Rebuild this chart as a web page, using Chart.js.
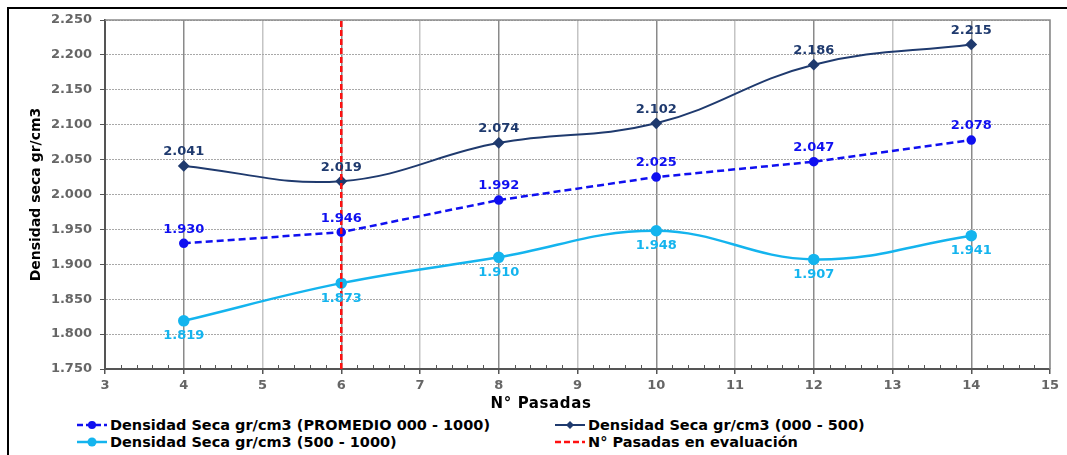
<!DOCTYPE html>
<html><head><meta charset="utf-8">
<script src="https://cdn.jsdelivr.net/npm/chart.js@4.4.1/dist/chart.umd.min.js"></script>
<style>
html,body{margin:0;padding:0;background:#fff;}
#wrap{position:relative;width:1067px;height:455px;overflow:hidden;background:#fff;font-family:"DejaVu Sans",Verdana,sans-serif;}
#frame{position:absolute;left:7px;top:7px;width:1200px;height:600px;border-left:2px solid #000;border-top:2px solid #000;}
#cv{position:absolute;left:0;top:0;width:1067px;height:415px;}
.leg{position:absolute;font-weight:bold;font-size:14.5px;color:#000;white-space:nowrap;display:flex;align-items:center;height:17px;}
.leg svg{margin-right:2px;}
</style></head>
<body><div id="wrap"><div id="frame"></div>
<div id="cv"><canvas id="c"></canvas></div>
<div class="leg" style="left:76px;top:416px"><svg width="32" height="12"><line x1="1" y1="6" x2="31" y2="6" stroke="#1010f0" stroke-width="2.5" stroke-dasharray="6,3"/><circle cx="16" cy="6" r="4" fill="#1010f0"/></svg>Densidad Seca gr/cm3 (PROMEDIO 000 - 1000)</div>
<div class="leg" style="left:554px;top:416px"><svg width="32" height="12"><line x1="1" y1="6" x2="31" y2="6" stroke="#1f3a6e" stroke-width="2"/><polygon points="16,2 20,6 16,10 12,6" fill="#1f3a6e"/></svg>Densidad Seca gr/cm3 (000 - 500)</div>
<div class="leg" style="left:76px;top:433px"><svg width="32" height="12"><line x1="1" y1="6" x2="31" y2="6" stroke="#14b4ee" stroke-width="2.5"/><circle cx="16" cy="6" r="4.5" fill="#14b4ee"/></svg>Densidad Seca gr/cm3 (500 - 1000)</div>
<div class="leg" style="left:554px;top:433px"><svg width="32" height="12"><line x1="1" y1="6" x2="31" y2="6" stroke="#ff1010" stroke-width="2.5" stroke-dasharray="6,3"/></svg>N° Pasadas en evaluación</div>
</div>
<script>
const pasadas = [4, 6, 8, 10, 12, 14];
const promedio = [1.930, 1.946, 1.992, 2.025, 2.047, 2.078];
const tramo000_500 = [2.041, 2.019, 2.074, 2.102, 2.186, 2.215];
const tramo500_1000 = [1.819, 1.873, 1.910, 1.948, 1.907, 1.941];
const pasadaEvaluacion = 6;
const yRange = [1.75, 2.25];
const xRange = [3, 15];
const xTitle = 'N° Pasadas';
const yTitle = 'Densidad seca gr/cm3';

const FONT = '"DejaVu Sans", Verdana, sans-serif';
const toXY = arr => pasadas.map((p, i) => ({x: p, y: arr[i]}));

const labelPlugin = {
  id: 'labels',
  afterDatasetsDraw(chart) {
    const ctx = chart.ctx;
    ctx.save();
    ctx.font = 'bold 13px ' + FONT;
    ctx.textAlign = 'center';
    ctx.textBaseline = 'middle';
    chart.data.datasets.forEach((ds, di) => {
      if (!ds.labelPos) return;
      const meta = chart.getDatasetMeta(di);
      meta.data.forEach((pt, i) => {
        const v = ds.data[i].y;
        const dy = ds.labelPos === 'above' ? -14 : 15;
        ctx.fillStyle = ds.labelColor;
        ctx.fillText(v.toFixed(3), pt.x, pt.y + dy);
      });
    });
    ctx.restore();
  }
};

const framePlugin = {
  id: 'frameBox',
  beforeDatasetsDraw(chart) {
    const {ctx, chartArea: a, scales: {x}} = chart;
    ctx.save();
    ctx.strokeStyle = '#8c8c8c';
    ctx.lineWidth = 1.5;
    ctx.beginPath();
    ctx.moveTo(a.left, a.top); ctx.lineTo(a.right, a.top); ctx.lineTo(a.right, a.bottom);
    ctx.stroke();
    ctx.strokeStyle = '#555';
    ctx.lineWidth = 1;
    ctx.beginPath();
    for (let v = xRange[0]; v < xRange[1]; v++) {
      for (let k = 1; k < 5; k++) {
        const px = Math.round(x.getPixelForValue(v + k * 0.2)) + 0.5;
        ctx.moveTo(px, a.bottom); ctx.lineTo(px, a.bottom - 4);
      }
    }
    ctx.stroke();
    ctx.restore();
  },
  afterDraw(chart) {
    const ctx = chart.ctx;
    ctx.save();
    ctx.font = 'bold 15px ' + FONT;
    ctx.fillStyle = '#000';
    ctx.textAlign = 'center';
    ctx.textBaseline = 'middle';
    ctx.letterSpacing = '0.6px';
    ctx.fillText(xTitle, 541, 404);
    ctx.restore();
  }
};

new Chart(document.getElementById('c'), {
  type: 'line',
  data: {
    datasets: [
      {
        label: 'N° Pasadas en evaluación',
        data: [{x: pasadaEvaluacion, y: yRange[0]}, {x: pasadaEvaluacion, y: yRange[1]}],
        borderColor: '#ff1010', borderWidth: 2.5, borderDash: [6, 3], pointRadius: 0, fill: false
      },
      {
        label: 'Densidad Seca gr/cm3 (500 - 1000)',
        data: toXY(tramo500_1000),
        borderColor: '#14b4ee', backgroundColor: '#14b4ee', borderWidth: 2.5,
        pointStyle: 'circle', pointRadius: 4.5, tension: 0.4,
        labelPos: 'below', labelColor: '#14b4ee'
      },
      {
        label: 'Densidad Seca gr/cm3 (PROMEDIO 000 - 1000)',
        data: toXY(promedio),
        borderColor: '#1010f0', backgroundColor: '#1010f0', borderWidth: 2.5, borderDash: [7, 4],
        pointStyle: 'circle', pointRadius: 3.5, tension: 0,
        labelPos: 'above', labelColor: '#1010f0'
      },
      {
        label: 'Densidad Seca gr/cm3 (000 - 500)',
        data: toXY(tramo000_500),
        borderColor: '#1f3a6e', backgroundColor: '#1f3a6e', borderWidth: 2,
        pointStyle: 'rectRot', pointRadius: 4.5, tension: 0.4,
        labelPos: 'above', labelColor: '#1f3a6e'
      }
    ]
  },
  options: {
    responsive: true, maintainAspectRatio: false, animation: false,
    layout: {padding: {left: 0, right: 17, top: 20, bottom: 0}},
    plugins: {legend: {display: false}, tooltip: {enabled: false}},
    scales: {
      x: {
        type: 'linear', min: xRange[0], max: xRange[1],
        afterFit(s) { s.height = 46; },
        ticks: {stepSize: 1, color: '#666', font: {family: FONT, size: 13, weight: 'bold'}, padding: 4, maxRotation: 0},
        grid: {
          color: c => (c.tick && c.tick.value % 2 === 0) ? '#8a8a8a' : '#c4c4c4',
          lineWidth: 1.5, tickLength: 5, tickColor: '#555'
        },
        border: {color: '#555', width: 2}
      },
      y: {
        min: yRange[0], max: yRange[1],
        afterFit(s) { s.width = 105; },
        ticks: {stepSize: 0.05, color: '#666', font: {family: FONT, size: 13, weight: 'bold'}, padding: 8,
          callback: v => Number(v).toFixed(3)},
        grid: {color: '#a8a8a8', lineWidth: 1, tickLength: 5, tickColor: '#555'},
        border: {color: '#555', width: 2, dash: [2, 1]},
        title: {display: true, text: yTitle, color: '#000', font: {family: FONT, size: 14, weight: 'bold'}, padding: {top: 28, bottom: 0}}
      }
    }
  },
  plugins: [framePlugin, labelPlugin]
});
</script>
</body></html>
